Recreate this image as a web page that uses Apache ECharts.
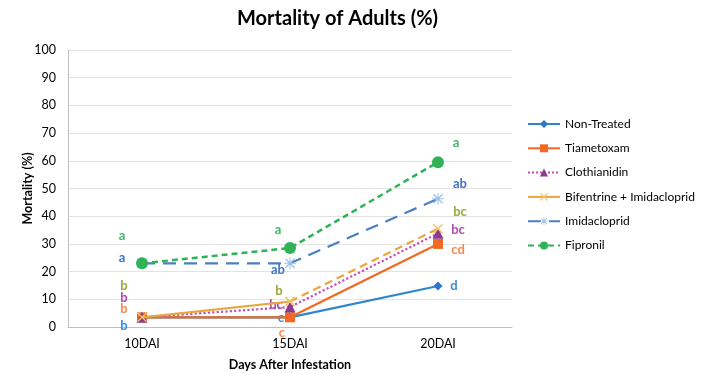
<!DOCTYPE html>
<html><head><meta charset="utf-8">
<script src="https://cdn.jsdelivr.net/npm/echarts@6/dist/echarts.min.js"></script>
<style>html,body{margin:0;padding:0;background:#fff}#c{width:702px;height:374px}</style>
</head><body><div id="c"></div>
<script>
const categories = ['10DAI', '15DAI', '20DAI'];
const seriesNames = ['Non-Treated', 'Tiametoxam', 'Clothianidin', 'Bifentrine + Imidacloprid', 'Imidacloprid', 'Fipronil'];
const nonTreated = [3.5, 3.5, 14.8];
const tiametoxam = [3.5, 3.5, 30];
const clothianidin = [3.5, 7.2, 33.8];
const bifentrine = [3.5, 9.2, 35.5];
const imidacloprid = [23, 23, 46.3];
const fipronil = [23, 28.5, 59.5];
const lettersNonTreated = ['b', 'c', 'd'];
const lettersTiametoxam = ['b', 'c', 'cd'];
const lettersClothianidin = ['b', 'bc', 'bc'];
const lettersBifentrine = ['b', 'b', 'bc'];
const lettersImidacloprid = ['a', 'ab', 'ab'];
const lettersFipronil = ['a', 'a', 'a'];
const yTicks = [0, 10, 20, 30, 40, 50, 60, 70, 80, 90, 100];

const FONT = 'Lato, "Open Sans", sans-serif';
const xPath = 'path://M0,1 L1,0 L5,4 L9,0 L10,1 L6,5 L10,9 L9,10 L5,6 L1,10 L0,9 L4,5 Z';
const starPath = 'path://M0,1 L1,0 L5,4 L9,0 L10,1 L6,5 L10,9 L9,10 L5,6 L1,10 L0,9 L4,5 Z M4.5,-1 L5.5,-1 L5.5,11 L4.5,11 Z M-1,4.5 L11,4.5 L11,5.5 L-1,5.5 Z';

const styles = [
  {color:'#2E86D0', labelColor:'#3A8ED6', symbol:'diamond', size:9, type:'solid', width:2.2, mcolor:'#2E75C6',
   offs:[[-18,9],[-9,1],[16,0]]},
  {color:'#F26A22', labelColor:'#F58B4C', symbol:'rect', size:10, type:'solid', width:2.2, mcolor:'#F26A22',
   offs:[[-18,-8],[-8,16],[20,6]]},
  {color:'#C24FB8', labelColor:'#B04CAE', symbol:'triangle', size:11, type:'dotted', width:2.2, mcolor:'#8A3A8F',
   offs:[[-18,-19],[-14,-2],[20,-4]]},
  {color:'#E8A73A', labelColor:'#9BAA3C', symbol:xPath, size:10, type:'solid', width:2.2, mcolor:'#F3C46E',
   offs:[[-18,-31],[-11,-11],[22,-17]], laterType:[8,5]},
  {color:'#4A80C0', labelColor:'#4472C4', symbol:starPath, size:12, type:[13,8], width:2.2, mcolor:'#9DC3E6',
   offs:[[-20,-5],[-12,7],[22,-15]]},
  {color:'#2EB457', labelColor:'#3DB86A', symbol:'circle', size:12, type:[6,4], width:2.5, mcolor:'#2EB457',
   offs:[[-20,-27],[-12,-18],[18,-19]]}
];
const values = [nonTreated, tiametoxam, clothianidin, bifentrine, imidacloprid, fipronil];
const letters = [lettersNonTreated, lettersTiametoxam, lettersClothianidin, lettersBifentrine, lettersImidacloprid, lettersFipronil];

const series = [];
seriesNames.forEach((name, i) => {
  const s = styles[i];
  const mk = (j, withLabel) => ({
    value: values[i][j],
    label: {show:withLabel, position:'inside', offset:s.offs[j], formatter:letters[i][j],
            color:s.labelColor, fontFamily:FONT, fontWeight:'bold', fontSize:13}
  });
  if (s.laterType) {
    series.push({name, type:'line', symbol:s.symbol, symbolSize:s.size,
      lineStyle:{color:s.color, width:s.width, type:s.type}, itemStyle:{color:s.mcolor}, z:2+i,
      data:[mk(0,true), mk(1,true), '-']});
    series.push({name, type:'line', symbol:s.symbol, symbolSize:s.size,
      lineStyle:{color:s.color, width:s.width, type:s.laterType}, itemStyle:{color:s.mcolor}, z:2+i,
      data:['-', mk(1,false), mk(2,true)]});
  } else {
    series.push({name, type:'line', symbol:s.symbol, symbolSize:s.size,
      lineStyle:{color:s.color, width:s.width, type:s.type}, itemStyle:{color:s.mcolor}, z:2+i,
      data:values[i].map((v, j) => mk(j, true))});
  }
});

const chart = echarts.init(document.getElementById('c'));
chart.setOption({
  animation:false,
  textStyle:{fontFamily:FONT},
  title:{text:'Mortality of Adults (%)', left:232, top:4,
         textStyle:{fontFamily:FONT, fontWeight:'bold', fontSize:20, color:'#000'}},
  grid:{left:68, right:190, top:50, bottom:47, containLabel:false, outerBoundsMode:'none'},
  legend:{orient:'vertical', left:522, top:113, itemWidth:32, itemHeight:10, itemGap:12.3,
          textStyle:{fontFamily:FONT, fontSize:12, color:'#000'},
          data:seriesNames},
  xAxis:{type:'category', data:categories, boundaryGap:true,
         axisLine:{lineStyle:{color:'#BFBFBF'}}, axisTick:{show:false},
         axisLabel:{color:'#000', fontSize:12.5, margin:10, fontFamily:FONT},
         name:'Days After Infestation', nameLocation:'middle', nameGap:31, nameMoveOverlap:false,
         nameTextStyle:{fontWeight:'bold', fontSize:12.5, color:'#000', fontFamily:FONT}},
  yAxis:{type:'value', min:yTicks[0], max:yTicks[yTicks.length-1], interval:10,
         axisLine:{show:true, lineStyle:{color:'#BFBFBF'}}, axisTick:{show:false},
         splitLine:{lineStyle:{color:'#E3E3E3'}},
         axisLabel:{color:'#000', fontSize:12.5, margin:12, fontFamily:FONT},
         name:'Mortality (%)', nameLocation:'middle', nameGap:34, nameRotate:90, nameMoveOverlap:false,
         nameTextStyle:{fontWeight:'bold', fontSize:12.5, color:'#000', fontFamily:FONT}},
  series
});
</script></body></html>
